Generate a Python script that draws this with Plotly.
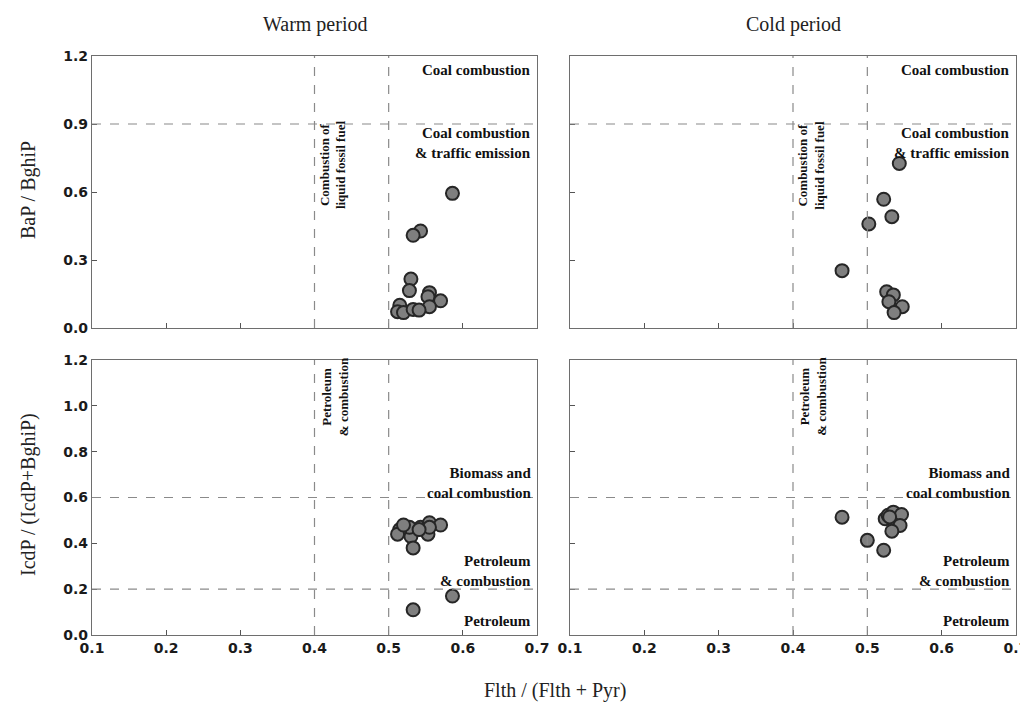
import plotly.graph_objects as go

# ---- data ----
warm_flth = [0.586, 0.543, 0.533, 0.530, 0.528, 0.555, 0.553, 0.570, 0.555, 0.515, 0.512, 0.520, 0.533, 0.541]
warm_bap = [0.594, 0.428, 0.409, 0.216, 0.165, 0.156, 0.138, 0.120, 0.094, 0.100, 0.072, 0.068, 0.082, 0.079]
warm_flth_b = [0.586, 0.543, 0.533, 0.530, 0.528, 0.555, 0.553, 0.570, 0.555, 0.515, 0.512, 0.520, 0.533, 0.541]
warm_icdp = [0.17, 0.47, 0.11, 0.43, 0.47, 0.49, 0.44, 0.48, 0.47, 0.46, 0.44, 0.48, 0.38, 0.46]

cold_flth = [0.543, 0.522, 0.533, 0.502, 0.466, 0.526, 0.535, 0.529, 0.547, 0.536]
cold_bap = [0.726, 0.568, 0.491, 0.459, 0.253, 0.160, 0.146, 0.116, 0.094, 0.068]
cold_flth_b = [0.466, 0.500, 0.522, 0.524, 0.528, 0.535, 0.546, 0.544, 0.533, 0.530]
cold_icdp = [0.514, 0.413, 0.370, 0.507, 0.522, 0.536, 0.526, 0.478, 0.453, 0.515]

x_ticks = [0.1, 0.2, 0.3, 0.4, 0.5, 0.6, 0.7]
y_ticks_top = [0.0, 0.3, 0.6, 0.9, 1.2]
y_ticks_bot = [0.0, 0.2, 0.4, 0.6, 0.8, 1.0, 1.2]

titles = ["Warm period", "Cold period"]
ytitle_top = "BaP / BghiP"
ytitle_bot = "IcdP / (IcdP+BghiP)"
xtitle = "Flth / (Flth + Pyr)"

OFF = 8  # page body margin offset
W, H = 1028 - OFF, 708 - OFF
def fx(a):
    return (a - OFF) / W
def fy(b):
    return 1 - (b - OFF) / H
def px(a, b):
    return [fx(a), fx(b)]
def py(top, bottom):
    return [fy(bottom), fy(top)]

fig = go.Figure()
marker = dict(size=13, color="#7f7f7f", line=dict(color="#262626", width=2))
panels = [
    ("x", "y", warm_flth, warm_bap),
    ("x2", "y2", cold_flth, cold_bap),
    ("x3", "y3", warm_flth_b, warm_icdp),
    ("x4", "y4", cold_flth_b, cold_icdp),
]
for xa, ya, xs, ys in panels:
    fig.add_trace(go.Scatter(x=xs, y=ys, mode="markers", marker=marker,
                             xaxis=xa, yaxis=ya, showlegend=False, hoverinfo="skip",
                             cliponaxis=False))

tickfont = dict(family="DejaVu Sans", size=14, color="#1a1a1a", weight="bold")
common_x = dict(range=[0.1, 0.7], tickvals=x_ticks, ticks="inside", ticklen=5,
                tickcolor="#555", showline=True, linecolor="#6e6e6e", linewidth=1.4,
                mirror=True, showgrid=False, zeroline=False, tickfont=tickfont,
                tickformat=".1f", automargin=False, ticklabeloverflow="allow")
common_y = dict(ticks="inside", ticklen=5, tickcolor="#555", showline=True,
                linecolor="#6e6e6e", linewidth=1.4, mirror=True, showgrid=False,
                zeroline=False, tickfont=tickfont, tickformat=".1f", automargin=False)

xl = px(92, 537)
xr = px(570, 1016)
yt = py(56, 328)
yb = py(360, 635)

fig.update_layout(
    width=W, height=H, margin=dict(l=0, r=0, t=0, b=0, autoexpand=False),
    paper_bgcolor="white", plot_bgcolor="white",
    xaxis=dict(common_x, domain=xl, anchor="y", showticklabels=False),
    yaxis=dict(common_y, domain=yt, anchor="x", range=[0, 1.2], tickvals=y_ticks_top),
    xaxis2=dict(common_x, domain=xr, anchor="y2", showticklabels=False),
    yaxis2=dict(common_y, domain=yt, anchor="x2", range=[0, 1.2], tickvals=y_ticks_top,
                showticklabels=False),
    xaxis3=dict(common_x, domain=xl, anchor="y3"),
    yaxis3=dict(common_y, domain=yb, anchor="x3", range=[0, 1.2], tickvals=y_ticks_bot),
    xaxis4=dict(common_x, domain=xr, anchor="y4"),
    yaxis4=dict(common_y, domain=yb, anchor="x4", range=[0, 1.2], tickvals=y_ticks_bot,
                showticklabels=False),
)

dash = dict(color="#8a8a8a", width=1.2, dash="dash")
shapes = []
for xa, ya, hlines in [("x", "y", [0.9]), ("x2", "y2", [0.9]),
                       ("x3", "y3", [0.6, 0.2]), ("x4", "y4", [0.6, 0.2])]:
    for v in [0.4, 0.5]:
        shapes.append(dict(type="line", xref=xa, yref=ya, x0=v, x1=v, y0=0, y1=1.2, line=dash))
    for h in hlines:
        shapes.append(dict(type="line", xref=xa, yref=ya, x0=0.1, x1=0.7, y0=h, y1=h, line=dash))
fig.update_layout(shapes=shapes)

afont = dict(family="Liberation Serif", size=15, color="#111", weight="bold")
rfont = dict(family="Liberation Serif", size=13, color="#111", weight="bold")
ann = []
for xa, ya in [("x", "y"), ("x2", "y2")]:
    ann.append(dict(xref=xa, yref=ya, x=0.694, y=1.14, text="Coal combustion",
                    xanchor="right", yanchor="middle", showarrow=False, font=afont, align="right"))
    ann.append(dict(xref=xa, yref=ya, x=0.694, y=0.815, text="Coal combustion<br>& traffic emission",
                    xanchor="right", yanchor="middle", showarrow=False, font=afont, align="right"))
    ann.append(dict(xref=xa, yref=ya, x=0.424, y=0.72, text="Combustion of<br>liquid fossil fuel",
                    textangle=-90, xanchor="center", yanchor="middle", showarrow=False,
                    font=rfont, align="center"))
for xa, ya in [("x3", "y3"), ("x4", "y4")]:
    ann.append(dict(xref=xa, yref=ya, x=0.427, y=1.04, text="Petroleum<br>& combustion",
                    textangle=-90, xanchor="center", yanchor="middle", showarrow=False,
                    font=rfont, align="center"))
    ann.append(dict(xref=xa, yref=ya, x=0.694, y=0.665, text="Biomass and<br>coal combustion",
                    xanchor="right", yanchor="middle", showarrow=False, font=afont, align="right"))
    ann.append(dict(xref=xa, yref=ya, x=0.694, y=0.28, text="Petroleum<br>& combustion",
                    xanchor="right", yanchor="middle", showarrow=False, font=afont, align="right"))
    ann.append(dict(xref=xa, yref=ya, x=0.694, y=0.06, text="Petroleum",
                    xanchor="right", yanchor="middle", showarrow=False, font=afont, align="right"))

tfont = dict(family="Liberation Serif", size=20, color="#222")
ann.append(dict(xref="paper", yref="paper", x=fx(315), y=fy(25), text=titles[0],
                showarrow=False, font=tfont, xanchor="center", yanchor="middle"))
ann.append(dict(xref="paper", yref="paper", x=fx(793), y=fy(25), text=titles[1],
                showarrow=False, font=tfont, xanchor="center", yanchor="middle"))
ann.append(dict(xref="paper", yref="paper", x=fx(28), y=fy(190), text=ytitle_top,
                textangle=-90, showarrow=False, font=tfont, xanchor="center", yanchor="middle"))
ann.append(dict(xref="paper", yref="paper", x=fx(28), y=fy(495), text=ytitle_bot,
                textangle=-90, showarrow=False, font=tfont, xanchor="center", yanchor="middle"))
ann.append(dict(xref="paper", yref="paper", x=fx(555), y=fy(690), text=xtitle,
                showarrow=False, font=tfont, xanchor="center", yanchor="middle"))
fig.update_layout(annotations=ann)

fig.write_html("out.html")
